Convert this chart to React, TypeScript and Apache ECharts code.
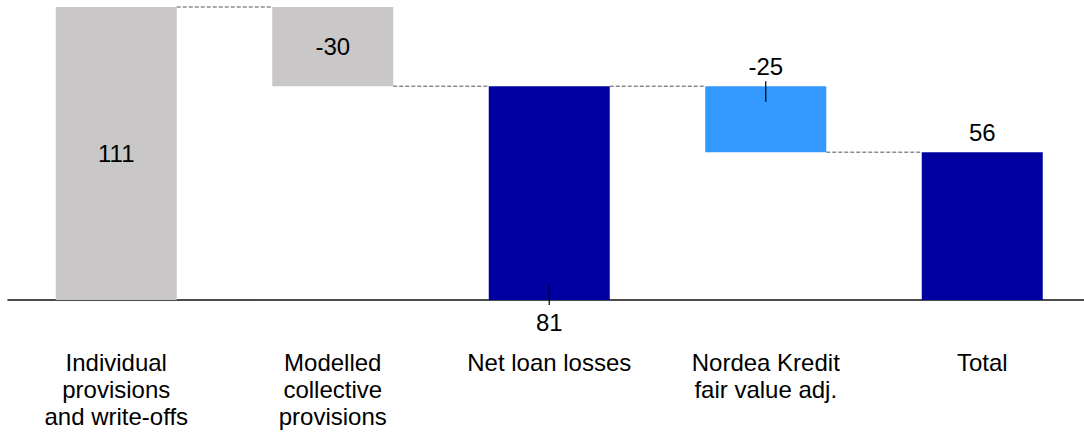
import React, { useEffect, useRef } from "react";
import * as echarts from "echarts";

const categories = [
  "Individual\nprovisions\nand write-offs",
  "Modelled\ncollective\nprovisions",
  "Net loan losses",
  "Nordea Kredit\nfair value adj.",
  "Total",
];
const values = [111, -30, 81, -25, 56];
const isTotal = [false, false, true, false, true];
const barColors = ["#C9C7C8", "#C9C7C8", "#0000A0", "#3399FF", "#0000A0"];
// label placement per bar
const labelPlace = ["inside", "inside", "bottom", "top", "top"];
// bars with a small leader tick at their label side
const tickBars = [2, 3];

// derived waterfall geometry (values only)
const bases: number[] = [];
const heights: number[] = [];
const levels: number[] = [];
{
  let run = 0;
  values.forEach((v, i) => {
    if (isTotal[i]) {
      bases.push(0);
      heights.push(run);
    } else if (v >= 0) {
      bases.push(run);
      heights.push(v);
      run += v;
    } else {
      run += v;
      bases.push(run);
      heights.push(-v);
    }
    levels.push(run);
  });
}

const FONT = 'Arial, "Liberation Sans", sans-serif';
const BAR_W = 121;

export default function App() {
  const ref = useRef<HTMLDivElement>(null);
  useEffect(() => {
    if (!ref.current) return;
    const chart = echarts.init(ref.current, undefined, { renderer: "svg" });
    const connectorData = levels.slice(0, -1).map((l, i) => [i, l]);
    const tickData = tickBars.map((i) => [
      i,
      labelPlace[i] === "bottom" ? bases[i] : bases[i] + heights[i],
      labelPlace[i] === "bottom" ? 1 : -1,
    ]);
    chart.setOption({
      animation: false,
      textStyle: { fontFamily: FONT },
      grid: {
        left: 8,
        top: 7,
        width: 1082.5,
        bottom: 132,
        containLabel: false,
        outerBoundsMode: "none",
      },
      xAxis: {
        type: "category",
        data: categories,
        axisLine: { show: true, lineStyle: { color: "#111", width: 1.6 } },
        axisTick: { show: false },
        axisLabel: {
          interval: 0,
          margin: 49,
          fontSize: 24,
          lineHeight: 27,
          color: "#000",
          fontFamily: FONT,
        },
      },
      yAxis: {
        type: "value",
        min: 0,
        max: 111,
        show: false,
        splitLine: { show: false },
      },
      series: [
        {
          type: "bar",
          stack: "w",
          barWidth: BAR_W,
          silent: true,
          itemStyle: { color: "transparent" },
          data: bases,
        },
        {
          type: "bar",
          stack: "w",
          barWidth: BAR_W,
          data: heights.map((h, i) => ({
            value: h,
            itemStyle: { color: barColors[i] },
            label: {
              show: true,
              position: labelPlace[i],
              distance: labelPlace[i] === "bottom" ? 10 : 8,
              formatter: String(values[i]),
              fontSize: 24,
              lineHeight: 24,
              color: "#000",
              fontFamily: FONT,
            },
          })),
        },
        {
          type: "custom",
          z: 5,
          silent: true,
          data: connectorData,
          renderItem: (params: any, api: any) => {
            const i = api.value(0);
            const lvl = api.value(1);
            const p1 = api.coord([i, lvl]);
            const p2 = api.coord([i + 1, lvl]);
            return {
              type: "line",
              shape: { x1: p1[0] + BAR_W / 2, y1: p1[1], x2: p2[0] - BAR_W / 2, y2: p2[1] },
              style: { stroke: "#555", lineWidth: 1, lineDash: [4, 2] },
            };
          },
        },
        {
          type: "custom",
          z: 6,
          silent: true,
          clip: false,
          data: tickData,
          renderItem: (params: any, api: any) => {
            const i = api.value(0);
            const lvl = api.value(1);
            const dir = api.value(2);
            const p = api.coord([i, lvl]);
            return {
              type: "line",
              shape: { x1: p[0], y1: p[1] + dir * 5, x2: p[0], y2: p[1] - dir * 15.5 },
              style: { stroke: "#000", lineWidth: 1.2 },
            };
          },
        },
      ],
    });
    return () => chart.dispose();
  }, []);
  return (
    <div
      ref={ref}
      style={{ position: "fixed", left: 0, top: 0, width: 1084, height: 432, background: "#fff" }}
    />
  );
}
